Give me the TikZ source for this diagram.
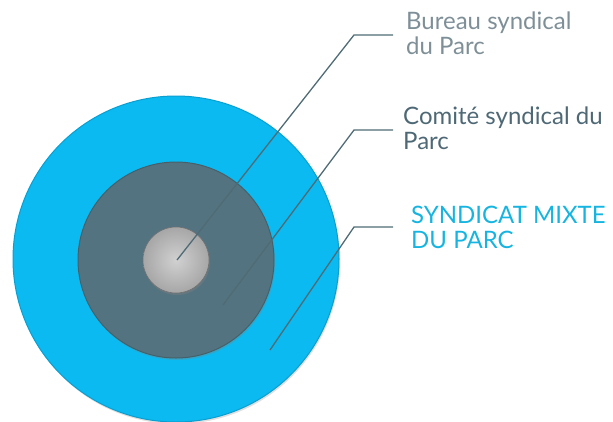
\documentclass[tikz,border=0pt]{standalone}
\usepackage{fontspec}
\setmainfont{Lato}
\usetikzlibrary{shadows}
\definecolor{cyanring}{HTML}{0BBAF0}
\definecolor{cyandark}{HTML}{0A9FD0}
\definecolor{slatering}{HTML}{547380}
\definecolor{slatedark}{HTML}{46606A}
\definecolor{corefill}{HTML}{BDBDBD}
\definecolor{leader}{HTML}{4F6B75}
\definecolor{graytext}{HTML}{7E8F97}
\definecolor{slatetext}{HTML}{4E6975}
\definecolor{cyantext}{HTML}{16B4E0}
\tikzset{
  ring/.style={circle, inner sep=0pt, draw=none},
  leaderline/.style={draw=leader, line width=1.3pt},
  lbl/.style={anchor=north west, inner sep=0pt, align=left, font=\fontsize{24}{25}\selectfont}
}
\begin{document}
\begin{tikzpicture}[x=1pt,y=-1pt]
\useasboundingbox (0,0) rectangle (613,421);
% rings
\node[ring, minimum size=326pt, fill=cyanring, draw=cyandark, line width=1pt,
      drop shadow={shadow xshift=1pt, shadow yshift=-2pt, opacity=0.25}] (outer) at (176,259) {};
\node[ring, minimum size=196pt, fill=slatering, draw=slatedark, line width=1pt,
      drop shadow={shadow xshift=1pt, shadow yshift=-2pt, opacity=0.35}] (middle) at (176,260) {};
\node[ring, minimum size=66pt, inner color=corefill!70!white, outer color=corefill!88!black, draw=corefill!60!black, line width=0.6pt,
      drop shadow={shadow xshift=1pt, shadow yshift=-2pt, opacity=0.4}] (core) at (176,260) {};
% leader end points
\coordinate (p1) at (177,260);
\coordinate (p2) at (223,305);
\coordinate (p3) at (270,350);
\coordinate (k1) at (354,35);
\coordinate (k2) at (354,130);
\coordinate (k3) at (354,227);
\coordinate (e1) at (393,35);
\coordinate (e2) at (393,130);
\coordinate (e3) at (393,227);
\draw[leaderline] (p1) -- (k1) -- (e1);
\draw[leaderline] (p2) -- (k2) -- (e2);
\draw[leaderline] (p3) -- (k3) -- (e3);
% labels
\node[lbl, text=graytext] (t1) at (406,12) {Bureau syndical\\du Parc};
\node[lbl, text=slatetext] (t2) at (403,107) {Comité syndical du\\Parc};
\node[lbl, text=cyantext] (t3) at (411,206) {SYNDICAT MIXTE\\DU PARC};
\end{tikzpicture}
\end{document}
